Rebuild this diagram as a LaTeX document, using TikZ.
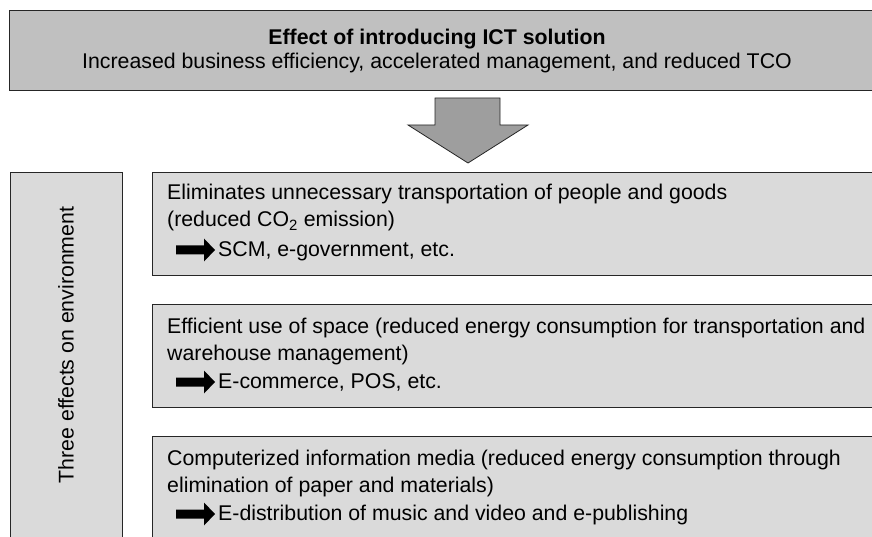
\documentclass[tikz,border=0pt]{standalone}
\usepackage{fontspec}
\setmainfont{Liberation Sans}
\usetikzlibrary{positioning}
\definecolor{topgray}{HTML}{C0C0C0}
\definecolor{boxgray}{HTML}{DADADA}
\definecolor{arrowgray}{HTML}{9E9E9E}

\begin{document}
\begin{tikzpicture}
        [x=1pt, y=-1pt,
         panel/.style={draw=black!85, line width=0.9pt, anchor=north west, inner sep=0pt},
         effect/.style={panel, fill=boxgray, minimum width=740pt, minimum height=103pt},
         txt/.style={anchor=base west, inner sep=0pt, font=\fontsize{21.3}{26}\selectfont},
         ctxt/.style={txt, anchor=base},
         bigarrow/.style={draw=black!85, line width=0.8pt, fill=arrowgray},
         blkarrow/.pic={\fill (0,-4.5) -- (28,-4.5) -- (28,-11.5) -- (39,0) -- (28,11.5) -- (28,4.5) -- (0,4.5) -- cycle;}]
        \useasboundingbox (0,0) rectangle (872,537);
        % top box
        \node[panel, fill=topgray, minimum width=880pt, minimum height=80pt] (ict) at (9,10) {};
        \node[ctxt, font=\fontsize{21.3}{26}\selectfont\bfseries] (ict1) at (437,45) {Effect of introducing ICT solution};
        \node[ctxt] (ict2) at (437,69) {Increased business efficiency, accelerated management, and reduced TCO};
        \draw[bigarrow] (435,98) -- (500,98) -- (500,125) -- (528,125) -- (468,163) -- (408,125) -- (435,125) -- cycle;
        % left box
        \node[panel, fill=boxgray, minimum width=112pt, minimum height=400pt] (env) at (10,172) {};
        \node[ctxt, anchor=center, rotate=90] (env1) at (66,345) {Three effects on environment};
        % three effects
        \foreach \i/\y in {1/172, 2/304, 3/436}
          \path node[effect] (e\i) at (152,\y) {}
                pic at ([xshift=24pt, yshift=-78pt]e\i.north west) {blkarrow};
        \node[txt] (e11) at ([xshift=15pt, yshift=-28pt]e1.north west) {Eliminates unnecessary transportation of people and goods};
        \node[txt] (e12) at ([yshift=-27pt]e11.base west) {(reduced CO\textsubscript{2} emission)};
        \node[txt] (e13) at ([xshift=66pt, yshift=-84pt]e1.north west) {SCM, e-government, etc.};
        \node[txt] (e21) at ([xshift=15pt, yshift=-29pt]e2.north west) {Efficient use of space (reduced energy consumption for transportation and};
        \node[txt] (e22) at ([yshift=-27pt]e21.base west) {warehouse management)};
        \node[txt] (e23) at ([xshift=66pt, yshift=-84pt]e2.north west) {E-commerce, POS, etc.};
        \node[txt] (e31) at ([xshift=15pt, yshift=-29pt]e3.north west) {Computerized information media (reduced energy consumption through};
        \node[txt] (e32) at ([yshift=-27pt]e31.base west) {elimination of paper and materials)};
        \node[txt] (e33) at ([xshift=66pt, yshift=-84pt]e3.north west) {E-distribution of music and video and e-publishing};
      \end{tikzpicture}
\end{document}
